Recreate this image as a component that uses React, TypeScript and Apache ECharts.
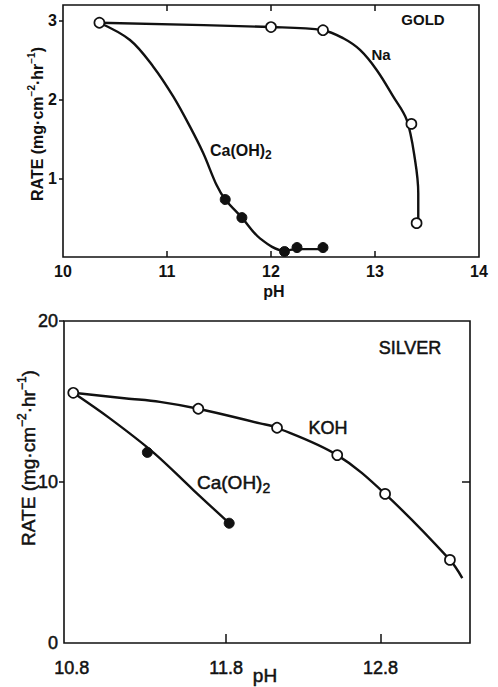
import { useEffect, useRef } from "react";
import * as echarts from "echarts";

// ---------- GOLD (top panel) ----------
const goldXTicks = [10, 11, 12, 13, 14];
const goldYTicks = [1, 2, 3];
const goldNaPH = [10.35, 12.0, 12.5, 13.35, 13.4];
const goldNaRate = [2.975, 2.92, 2.88, 1.69, 0.43];
const goldCaPH = [11.56, 11.72, 12.13, 12.25, 12.5];
const goldCaRate = [0.73, 0.5, 0.07, 0.12, 0.12];
// hand-drawn curves
const goldNaCurvePH = [10.35, 12.0, 12.5, 12.695, 12.856, 13.016, 13.176, 13.305, 13.385, 13.416, 13.416, 13.4];
const goldNaCurveRate = [2.975, 2.92, 2.88, 2.777, 2.629, 2.375, 2.036, 1.74, 1.232, 0.809, 0.47, 0.43];
const goldCaCurvePH = [10.35, 10.644, 10.868, 11.061, 11.221, 11.349, 11.478, 11.56, 11.72, 11.894, 12.13, 12.25, 12.5];
const goldCaCurveRate = [2.975, 2.756, 2.417, 2.036, 1.655, 1.317, 0.91, 0.73, 0.5, 0.237, 0.08, 0.1, 0.1];

// ---------- SILVER (bottom panel) ----------
const silverXTicks = [10.8, 11.8, 12.8];
const silverYTicks = [0, 10, 20];
const silverKohPH = [10.81, 11.62, 12.13, 12.52, 12.83, 13.25];
const silverKohRate = [15.54, 14.55, 13.37, 11.67, 9.26, 5.16];
const silverCaPH = [11.29, 11.82];
const silverCaRate = [11.84, 7.44];
const silverKohCurvePH = [10.81, 11.155, 11.371, 11.62, 12.02, 12.13, 12.52, 12.83, 13.25, 13.33];
const silverKohCurveRate = [15.54, 15.19, 14.98, 14.55, 13.64, 13.37, 11.67, 9.26, 5.16, 4.03];
const silverCaCurvePH = [10.81, 11.047, 11.328, 11.588, 11.82];
const silverCaCurveRate = [15.54, 13.95, 11.84, 9.5, 7.44];

const FONT = '"Liberation Sans", Arial, Helvetica, sans-serif';
const INK = "#111111";

const zip = (xs: number[], ys: number[]) => xs.map((x, i) => [x, ys[i]]);

const openStyle = { color: "#ffffff", borderColor: INK, borderWidth: 1.7, opacity: 1 };
const filledStyle = { color: INK, borderColor: INK, borderWidth: 1, opacity: 1 };

function curve(name: string, xi: number, yi: number, xs: number[], ys: number[]) {
  return {
    name,
    type: "line",
    xAxisIndex: xi,
    yAxisIndex: yi,
    data: zip(xs, ys),
    smooth: 0.35,
    showSymbol: false,
    symbol: "none",
    lineStyle: { color: INK, width: 2.4 },
    z: 2,
  };
}

function dots(name: string, xi: number, yi: number, xs: number[], ys: number[], open: boolean, size: number) {
  return {
    name,
    type: "scatter",
    xAxisIndex: xi,
    yAxisIndex: yi,
    data: zip(xs, ys),
    symbol: "circle",
    symbolSize: size,
    itemStyle: open ? openStyle : filledStyle,
    z: 5,
  };
}

function tokenStyle(size: number, weight: string, thick: number, extra: any) {
  const s: any = { fontSize: size, fontWeight: weight, fontFamily: FONT, fill: INK, ...extra };
  if (thick > 0) {
    s.stroke = INK;
    s.lineWidth = thick;
  }
  return s;
}

function rateName(x: number, y: number, size: number, weight: string, thick: number) {
  const sup = Math.round(size * 0.62);
  return {
    type: "text",
    x,
    y,
    rotation: Math.PI / 2,
    style: {
      text: "{n|RATE (mg·cm}{s|−2}{n|·hr}{s|−1}{n|)}",
      align: "center",
      verticalAlign: "middle",
      fill: INK,
      rich: {
        n: tokenStyle(size, weight, thick, { lineHeight: size + 6 }),
        s: tokenStyle(sup, weight, thick, { lineHeight: sup + 2, verticalAlign: "top" }),
      },
    },
  };
}

function caLabel(x: number, y: number, size: number, weight: string, thick: number) {
  const sub = Math.round(size * 0.72);
  return {
    type: "text",
    x,
    y,
    style: {
      text: "{n|Ca(OH)}{s|2}",
      align: "left",
      verticalAlign: "middle",
      fill: INK,
      rich: {
        n: tokenStyle(size, weight, thick, { lineHeight: size + 6 }),
        s: tokenStyle(sub, weight, thick, { lineHeight: sub + 1, verticalAlign: "bottom" }),
      },
    },
  };
}

function plainText(text: string, x: number, y: number, size: number, weight: string, thick: number) {
  const style: any = {
    text,
    align: "center",
    verticalAlign: "middle",
    fontSize: size,
    fontWeight: weight,
    fontFamily: FONT,
    fill: INK,
  };
  if (thick > 0) {
    style.stroke = INK;
    style.lineWidth = thick;
  }
  return { type: "text", x, y, style };
}

export default function App() {
  const ref = useRef<HTMLDivElement>(null);

  useEffect(() => {
    if (!ref.current) return;
    const chart = echarts.init(ref.current, undefined, { renderer: "svg" });

    const tickLine = { color: INK, width: 1.5 };
    const topLabel = { color: INK, fontSize: 16, fontWeight: "bold", fontFamily: FONT };
    const botLabel = {
      color: INK, fontSize: 18, fontWeight: "normal", fontFamily: FONT,
      textBorderColor: INK, textBorderWidth: 0.5,
    };

    const option: any = {
      animation: false,
      backgroundColor: "#ffffff",
      grid: [
        { left: 63, top: 5, width: 416, height: 252, show: true, borderColor: INK, borderWidth: 1.6, backgroundColor: "transparent" },
        { left: 64, top: 321, width: 406, height: 322, show: true, borderColor: INK, borderWidth: 1.6, backgroundColor: "transparent" },
      ],
      xAxis: [
        {
          gridIndex: 0,
          type: "value",
          min: 10,
          max: 14,
          interval: 1,
          axisLine: { show: false, onZero: false },
          axisTick: { show: true, inside: true, length: 6, lineStyle: tickLine, customValues: [11, 12, 13] },
          axisLabel: { ...topLabel, margin: 6, customValues: goldXTicks },
          splitLine: { show: false },
        },
        {
          gridIndex: 0,
          type: "value",
          position: "top",
          min: 10,
          max: 14,
          interval: 1,
          axisLine: { show: false, onZero: false },
          axisTick: { show: true, inside: true, length: 6, lineStyle: tickLine, customValues: [11, 12, 13] },
          axisLabel: { show: false },
          splitLine: { show: false },
        },
        {
          gridIndex: 1,
          type: "value",
          min: 10.75,
          max: 13.38,
          axisLine: { show: false, onZero: false },
          axisTick: { show: true, inside: true, length: 9, lineStyle: tickLine, customValues: [11.8, 12.8] },
          axisLabel: { ...botLabel, margin: 16, customValues: silverXTicks, formatter: (v: number) => v.toFixed(1) },
          splitLine: { show: false },
        },
      ],
      yAxis: [
        {
          gridIndex: 0,
          type: "value",
          min: 0,
          max: 3.2,
          interval: 1,
          axisLine: { show: false, onZero: false },
          axisTick: { show: true, inside: false, length: 4, lineStyle: tickLine, customValues: goldYTicks },
          axisLabel: { ...topLabel, margin: 6, customValues: goldYTicks },
          splitLine: { show: false },
        },
        {
          gridIndex: 1,
          type: "value",
          min: 0,
          max: 20,
          interval: 10,
          axisLine: { show: false, onZero: false },
          axisTick: { show: true, inside: false, length: 5, lineStyle: tickLine, customValues: [10, 20] },
          axisLabel: { ...botLabel, margin: 6, customValues: silverYTicks },
          splitLine: { show: false },
        },
        {
          gridIndex: 1,
          type: "value",
          position: "right",
          min: 0,
          max: 20,
          interval: 10,
          axisLine: { show: false, onZero: false },
          axisTick: { show: true, inside: true, length: 8, lineStyle: tickLine, customValues: [10] },
          axisLabel: { show: false },
          splitLine: { show: false },
        },
      ],
      series: [
        curve("Na curve", 0, 0, goldNaCurvePH, goldNaCurveRate),
        curve("Ca(OH)2 curve", 0, 0, goldCaCurvePH, goldCaCurveRate),
        dots("Ca(OH)2", 0, 0, goldCaPH, goldCaRate, false, 10),
        dots("Na", 0, 0, goldNaPH, goldNaRate, true, 10),
        curve("KOH curve", 2, 1, silverKohCurvePH, silverKohCurveRate),
        curve("Ca(OH)2 silver curve", 2, 1, silverCaCurvePH, silverCaCurveRate),
        dots("Ca(OH)2 silver", 2, 1, silverCaPH, silverCaRate, false, 10),
        dots("KOH", 2, 1, silverKohPH, silverKohRate, true, 10),
      ],
      graphic: [
        plainText("GOLD", 423, 19, 15, "bold", 0),
        plainText("Na", 381, 54, 15, "bold", 0),
        caLabel(210, 150, 16, "bold", 0),
        plainText("pH", 274, 291, 16, "bold", 0),
        rateName(37, 124, 16, "bold", 0),
        plainText("SILVER", 410, 348, 18, "normal", 0.5),
        plainText("KOH", 328, 428, 18, "normal", 0.5),
        caLabel(197, 482, 19, "normal", 0.5),
        plainText("pH", 265, 675, 19, "normal", 0.5),
        rateName(28, 458, 19, "normal", 0.5),
      ],
    };

    chart.setOption(option);
    return () => chart.dispose();
  }, []);

  return (
    <div
      ref={ref}
      style={{ position: "fixed", left: 0, top: 0, width: 498, height: 687, background: "#fff" }}
    />
  );
}
